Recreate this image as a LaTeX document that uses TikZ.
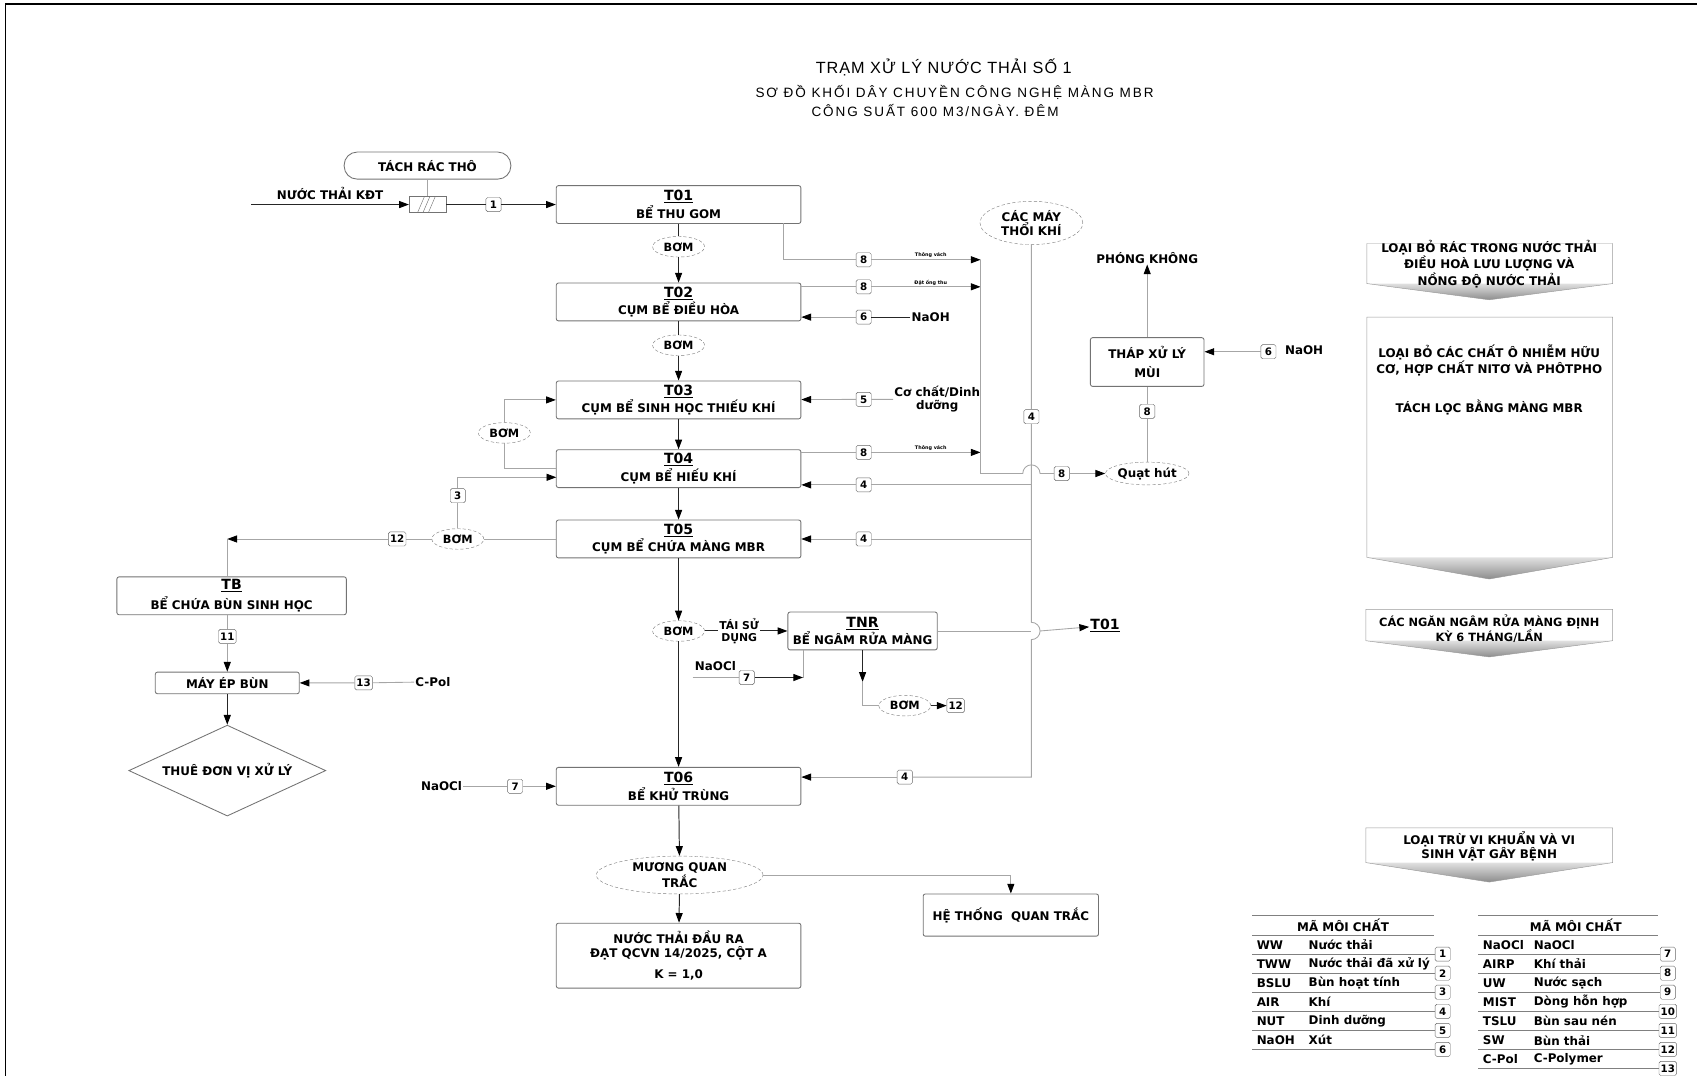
\documentclass[tikz,border=0pt]{standalone}
\usepackage{fontspec}
\setmainfont{DejaVu Sans}
\newfontfamily\titlefont[LetterSpace=6]{Liberation Sans}
\newfontfamily\subfont[LetterSpace=14]{Liberation Sans}
\usetikzlibrary{arrows.meta}
\usetikzlibrary{shapes.geometric}
\newcommand{\tankid}[1]{{\fontsize{13}{14}\selectfont\underline{#1}}}
\tikzset{
	tankstyle/.style={rectangle,rounded corners=2pt,draw=black!55,line width=0.8pt,fill=white,minimum width=226pt,minimum height=35pt,align=center,inner sep=1pt,font=\bfseries\fontsize{11}{13}\selectfont},
	pumpstyle/.style={ellipse,draw=black!50,densely dashed,fill=white,minimum width=48pt,minimum height=19pt,inner sep=0pt,align=center,font=\bfseries\fontsize{10.5}{12}\selectfont},
	numstyle/.style={rectangle,rounded corners=1.5pt,draw=black!60,fill=white,minimum width=14pt,minimum height=13pt,inner sep=1.5pt,font=\bfseries\fontsize{9.5}{10}\selectfont},
	textstyle/.style={align=center,inner sep=1pt,font=\bfseries\fontsize{11}{12}\selectfont},
	smallstyle/.style={inner sep=0pt,font=\bfseries\fontsize{4.5}{5}\selectfont},
	legstyle/.style={anchor=west,inner sep=0pt,font=\bfseries\fontsize{11}{12}\selectfont},
	flowline/.style={draw=black!85,line width=0.9pt},
	liteline/.style={draw=black!35,line width=0.8pt},
	endarrow/.style={-{Triangle[length=9pt,width=6.5pt,color=black]}}
}
\begin{document}
\begin{tikzpicture}[x=1pt,y=-1pt]
	\useasboundingbox (0,0) rectangle (1568,994);
	\draw[line width=1.6pt] (5,994) -- (5,4) -- (1568,4);
	% heading
	\node[inner sep=0pt,font=\titlefont\fontsize{15}{16}\selectfont] (title) at (872,62) {TRẠM XỬ LÝ NƯỚC THẢI SỐ 1};
	\node[inner sep=0pt,font=\subfont\fontsize{12.5}{14}\selectfont] (sub1) at (882,85) {SƠ ĐỒ KHỐI DÂY CHUYỀN CÔNG NGHỆ MÀNG MBR};
	\node[inner sep=0pt,font=\subfont\fontsize{12.5}{14}\selectfont] (sub2) at (864,102) {CÔNG SUẤT 600 M3/NGÀY. ĐÊM};
	% tanks
	\node[tankstyle] (t01) at (627,189) {\tankid{T01}\\[1pt]BỂ THU GOM};
	\node[tankstyle] (t02) at (627,279) {\tankid{T02}\\[1pt]CỤM BỂ ĐIỀU HÒA};
	\node[tankstyle] (t03) at (627,369.5) {\tankid{T03}\\[1pt]CỤM BỂ SINH HỌC THIẾU KHÍ};
	\node[tankstyle] (t04) at (627,433) {\tankid{T04}\\[1pt]CỤM BỂ HIẾU KHÍ};
	\node[tankstyle] (t05) at (627,498) {\tankid{T05}\\[1pt]CỤM BỂ CHỨA MÀNG MBR};
	\node[tankstyle] (t06) at (627,726.5) {\tankid{T06}\\[2pt]BỂ KHỬ TRÙNG};
	\node[tankstyle,minimum height=60pt] (nuocra) at (627,883) {NƯỚC THẢI ĐẦU RA\\ĐẠT QCVN 14/2025, CỘT A\\[6pt]K = 1,0};
	\node[tankstyle,minimum width=162pt,minimum height=39pt] (hethong) at (934,845.5) {HỆ THỐNG\ \ QUAN TRẮC};
	\node[tankstyle,minimum width=138pt] (tnr) at (797,583) {\tankid{TNR}\\[1pt]BỂ NGÂM RỬA MÀNG};
	\node[tankstyle,minimum width=212pt] (tb) at (214,550.5) {\tankid{TB}\\[3pt]BỂ CHỨA BÙN SINH HỌC};
	\node[tankstyle,minimum width=133pt,minimum height=20pt] (mayep) at (210,631) {MÁY ÉP BÙN};
	\node[tankstyle,minimum width=105pt,minimum height=45pt] (thap) at (1060,334.5) {THÁP XỬ LÝ\\[4pt]MÙI};
	\node[diamond,aspect=2.17,draw=black!55,line width=0.8pt,minimum width=182pt,minimum height=84pt,inner sep=0pt,font=\bfseries\fontsize{11}{12}\selectfont] (thue) at (210,712) {THUÊ ĐƠN VỊ XỬ LÝ};
	\node[rectangle,rounded corners=12pt,draw=black!55,line width=0.8pt,minimum width=154pt,minimum height=25pt,font=\bfseries\fontsize{11}{12}\selectfont] (tachrac) at (395,153) {TÁCH RÁC THÔ};
	\node[rectangle,draw=black!55,minimum width=34pt,minimum height=15pt,inner sep=0pt] (screen) at (395,189) {};
	\draw[black!55] (386,196) -- (392,182) (391,196) -- (397,182) (396,196) -- (402,182);
	% pumps
	\node[pumpstyle] (bom1) at (627,228) {BƠM};
	\node[pumpstyle] (bom2) at (627,319) {BƠM};
	\node[pumpstyle] (bom3) at (627,583) {BƠM};
	\node[pumpstyle] (bomr) at (466,400) {BƠM};
	\node[pumpstyle] (bom12) at (423,498) {BƠM};
	\node[pumpstyle] (bom4) at (836,652) {BƠM};
	\node[pumpstyle,minimum width=95pt,minimum height=40pt,font=\bfseries\fontsize{11}{12.5}\selectfont] (thoikhi) at (953,206) {CÁC MÁY\\THỔI KHÍ};
	\node[pumpstyle,minimum width=62pt,minimum height=21pt,font=\bfseries\fontsize{11}{12}\selectfont] (quat) at (1060,437.5) {Quạt hút};
	\node[pumpstyle,minimum width=154pt,minimum height=35pt,font=\bfseries\fontsize{11}{13}\selectfont] (muong) at (628,808.5) {MƯƠNG QUAN\\TRẮC};
	% texts
	\node[textstyle] (kdt) at (305,179) {NƯỚC THẢI KĐT};
	\node[textstyle] (cpol) at (400,630) {C-Pol};
	\node[textstyle] (naocl1) at (408,726.5) {NaOCl};
	\node[textstyle] (naocl2) at (661,615) {NaOCl};
	\node[textstyle] (naoh1) at (860,293) {NaOH};
	\node[textstyle] (coch) at (866,369) {Cơ chất/Dinh\\dưỡng};
	\node[textstyle] (naoh2) at (1205,324) {NaOH};
	\node[textstyle] (phong) at (1060,238) {PHÓNG KHÔNG};
	\node[textstyle] (t01out) at (1021,578) {\tankid{T01}};
	\node[textstyle,fill=white,font=\bfseries\fontsize{10}{11}\selectfont] (taisd) at (683,583) {TÁI SỬ\\DỤNG};
	\node[smallstyle] (thong1) at (860,236) {Thông vách};
	\node[smallstyle] (datong) at (860,261) {Đặt ống thu};
	\node[smallstyle] (thong2) at (860,414) {Thông vách};
	% stream numbers
	\node[numstyle] (n1) at (456,189) {1};
	\node[numstyle] (n8a) at (798,240) {8};
	\node[numstyle] (n8b) at (798,265) {8};
	\node[numstyle] (n6a) at (798,293) {6};
	\node[numstyle] (n5) at (798,369) {5};
	\node[numstyle] (n8c) at (798,418) {8};
	\node[numstyle] (n4a) at (798,448) {4};
	\node[numstyle] (n4b) at (798,498) {4};
	\node[numstyle] (n4c) at (953,385) {4};
	\node[numstyle] (n4d) at (836,718) {4};
	\node[numstyle] (n8d) at (981,437.5) {8};
	\node[numstyle] (n8e) at (1060,380) {8};
	\node[numstyle] (n6b) at (1172,325) {6};
	\node[numstyle] (n3) at (423,458) {3};
	\node[numstyle] (n12) at (367,498) {12};
	\node[numstyle] (n11) at (210,588) {11};
	\node[numstyle] (n13) at (336,631) {13};
	\node[numstyle] (n7a) at (476,726.5) {7};
	\node[numstyle] (n7b) at (690,626) {7};
	\node[numstyle] (n12b) at (883,652) {12};
	% bends
	\coordinate (inp) at (232,189);
	\coordinate (od1) at (724,206.5);
	\coordinate (col1) at (906,240);
	\coordinate (col2) at (906,265);
	\coordinate (col3) at (906,418);
	\coordinate (col4) at (906,437.5);
	\coordinate (hop1) at (945,437.5);
	\coordinate (air4) at (953,448);
	\coordinate (air5) at (953,498);
	\coordinate (airhop) at (953,575);
	\coordinate (airlow) at (953,718);
	\coordinate (tnrhop) at (953,583);
	\coordinate (tnrout) at (961,583);
	\coordinate (t04in) at (514,441);
	\coordinate (c12) at (210,498);
	\coordinate (naocl2s) at (640,626);
	\coordinate (c7b) at (742,626);
	\coordinate (tnrdn) at (797,630);
	% main line
	\draw[flowline,endarrow] (inp) -- (screen);
	\draw[liteline] (tachrac) -- (screen);
	\draw[flowline,endarrow] (screen) -- (n1) -- (t01);
	\draw[flowline] (t01) -- (bom1);
	\draw[flowline,endarrow] (bom1) -- (t02);
	\draw[flowline] (t02) -- (bom2);
	\draw[flowline,endarrow] (bom2) -- (t03);
	\draw[flowline,endarrow] (t03) -- (t04);
	\draw[flowline,endarrow] (t04) -- (t05);
	\draw[flowline,endarrow] (t05) -- (bom3);
	\draw[flowline,endarrow] (bom3) -- (t06);
	\draw[flowline,endarrow] (t06) -- (muong);
	\draw[flowline,endarrow] (muong) -- (nuocra);
	\draw[liteline,endarrow] (muong) -| (hethong);
	% recirculation and sludge
	\draw[liteline,endarrow] (bomr) |- (t03.west);
	\draw[liteline] (bomr) |- (t04.west);
	\draw[liteline] (t05) -- (bom12);
	\draw[liteline] (bom12) -- (n3);
	\draw[liteline,endarrow] (n3) |- (t04in);
	\draw[liteline,endarrow] (bom12) -- (n12) -- (c12);
	\draw[liteline] (c12) -- (c12 |- tb.north);
	\draw[liteline,endarrow] (tb.south -| n11) -- (n11) -- (mayep);
	\draw[liteline,endarrow] (cpol) -- (n13) -- (mayep);
	\draw[flowline,endarrow] (mayep) -- (thue);
	\draw[liteline,endarrow] (naocl1) -- (n7a) -- (t06);
	% membrane cleaning
	\draw[flowline,endarrow] (bom3) -- (taisd) -- (tnr);
	\draw[liteline] (naocl2s) -- (n7b);
	\draw[flowline,endarrow] (n7b) -- (c7b);
	\draw[liteline] (c7b) -- (c7b |- tnr.south);
	\draw[flowline,endarrow] (tnr) -- (tnrdn);
	\draw[liteline] (tnrdn) |- (bom4);
	\draw[flowline,endarrow] (bom4) -- (n12b);
	\draw[liteline] (tnr) -- (tnrhop);
	\draw[liteline,endarrow] (tnrout) -- (t01out);
	% air
	\draw[liteline] (thoikhi) -- (n4c) -- (airhop) arc[start angle=270,end angle=450,radius=8] -- (airlow) -- (n4d);
	\draw[liteline,endarrow] (n4d) -- (t06.east |- n4d);
	\draw[liteline,endarrow] (air4) -- (n4a) -- (t04.east |- n4a);
	\draw[liteline,endarrow] (air5) -- (n4b) -- (t05.east |- n4b);
	% odour
	\draw[liteline] (od1) |- (n8a);
	\draw[liteline,endarrow] (n8a) -- (col1);
	\draw[liteline,endarrow] (t02.east |- n8b) -- (n8b) -- (col2);
	\draw[liteline,endarrow] (t04.east |- n8c) -- (n8c) -- (col3);
	\draw[liteline] (col1) -- (col4) -- (hop1) arc[start angle=180,end angle=360,radius=8] -- (n8d);
	\draw[liteline,endarrow] (n8d) -- (quat);
	\draw[liteline] (quat) -- (n8e) -- (thap);
	\draw[liteline,endarrow] (thap) -- (phong);
	\draw[liteline,endarrow] (n6b) -- (thap.east |- n6b);
	\draw[flowline] (naoh1) -- (n6a);
	\draw[liteline,endarrow] (n6a) -- (t02.east |- n6a);
	\draw[liteline,endarrow] (coch.west |- n5) -- (n5) -- (t03);
	% stage notes
	\shade[top color=black!12,bottom color=black!45] (1263,262) -- (1490,262) -- (1376,277) -- cycle;
	\draw[black!40] (1263,225) -- (1490,225) -- (1490,262) -- (1376,277) -- (1263,262) -- cycle;
	\node[textstyle] (side1) at (1376,244) {LOẠI BỎ RÁC TRONG NƯỚC THẢI\\ĐIỀU HOÀ LƯU LƯỢNG VÀ\\NỒNG ĐỘ NƯỚC THẢI};
	\shade[top color=black!12,bottom color=black!45] (1263,515) -- (1490,515) -- (1376,535) -- cycle;
	\draw[black!40] (1263,293) -- (1490,293) -- (1490,515) -- (1376,535) -- (1263,515) -- cycle;
	\node[textstyle,font=\bfseries\fontsize{11}{14}\selectfont] (side2) at (1376,351) {LOẠI BỎ CÁC CHẤT Ô NHIỄM HỮU\\CƠ, HỢP CHẤT NITƠ VÀ PHÔTPHO\\[22pt]TÁCH LỌC BẰNG MÀNG MBR};
	\shade[top color=black!12,bottom color=black!45] (1262,592) -- (1490,592) -- (1376,607) -- cycle;
	\draw[black!40] (1262,563) -- (1490,563) -- (1490,592) -- (1376,607) -- (1262,592) -- cycle;
	\node[textstyle,font=\bfseries\fontsize{10.5}{13}\selectfont] (side3) at (1376,581) {CÁC NGĂN NGÂM RỬA MÀNG ĐỊNH\\KỲ 6 THÁNG/LẦN};
	\shade[top color=black!12,bottom color=black!45] (1262,797) -- (1490,797) -- (1376,815) -- cycle;
	\draw[black!40] (1262,765) -- (1490,765) -- (1490,797) -- (1376,815) -- (1262,797) -- cycle;
	\node[textstyle,font=\bfseries\fontsize{11}{13}\selectfont] (side4) at (1376,782) {LOẠI TRỪ VI KHUẨN VÀ VI\\SINH VẬT GÂY BỆNH};
	% legend, left
	\draw[black!50] (1157,846) -- (1325,846);
	\node[legstyle,anchor=center] (h1) at (1241,855) {MÃ MÔI CHẤT};
	\draw[black!50] (1157,864) -- (1325,864);
	\node[numstyle] (k1) at (1333,881.6) {1};
	\node[numstyle] (k2) at (1333,899.2) {2};
	\node[numstyle] (k3) at (1333,916.8) {3};
	\node[numstyle] (k4) at (1333,934.4) {4};
	\node[numstyle] (k5) at (1333,952) {5};
	\node[numstyle] (k6) at (1333,969.6) {6};
	\node[legstyle] (c1) at (1161,873) {WW}; \node[legstyle] (d1) at (1209,873) {Nước thải}; \draw[black!50] (1157,881.6) -- (k1);
	\node[legstyle] (c2) at (1161,890.6) {TWW}; \node[legstyle] (d2) at (1209,890.6) {Nước thải đã xử lý}; \draw[black!50] (1157,899.2) -- (k2);
	\node[legstyle] (c3) at (1161,908.2) {BSLU}; \node[legstyle] (d3) at (1209,908.2) {Bùn hoạt tính}; \draw[black!50] (1157,916.8) -- (k3);
	\node[legstyle] (c4) at (1161,925.8) {AIR}; \node[legstyle] (d4) at (1209,925.8) {Khí}; \draw[black!50] (1157,934.4) -- (k4);
	\node[legstyle] (c5) at (1161,943.4) {NUT}; \node[legstyle] (d5) at (1209,943.4) {Dinh dưỡng}; \draw[black!50] (1157,952) -- (k5);
	\node[legstyle] (c6) at (1161,961) {NaOH}; \node[legstyle] (d6) at (1209,961) {Xút}; \draw[black!50] (1157,969.6) -- (k6);
	% legend, right
	\draw[black!50] (1366,846) -- (1532,846);
	\node[legstyle,anchor=center] (h2) at (1456,855) {MÃ MÔI CHẤT};
	\draw[black!50] (1366,864) -- (1532,864);
	\node[numstyle] (k7) at (1541,881.6) {7};
	\node[numstyle] (k8) at (1541,899.2) {8};
	\node[numstyle] (k9) at (1541,916.8) {9};
	\node[numstyle] (k10) at (1541,934.4) {10};
	\node[numstyle] (k11) at (1541,952) {11};
	\node[numstyle] (k12) at (1541,969.6) {12};
	\node[numstyle] (k13) at (1541,987.2) {13};
	\node[legstyle] (c7) at (1370,873) {NaOCl}; \node[legstyle] (d7) at (1417,873) {NaOCl}; \draw[black!50] (1366,881.6) -- (k7);
	\node[legstyle] (c8) at (1370,890.6) {AIRP}; \node[legstyle] (d8) at (1417,890.6) {Khí thải}; \draw[black!50] (1366,899.2) -- (k8);
	\node[legstyle] (c9) at (1370,908.2) {UW}; \node[legstyle] (d9) at (1417,908.2) {Nước sạch}; \draw[black!50] (1366,916.8) -- (k9);
	\node[legstyle] (c10) at (1370,925.8) {MIST}; \node[legstyle] (d10) at (1417,925.8) {Dòng hỗn hợp}; \draw[black!50] (1366,934.4) -- (k10);
	\node[legstyle] (c11) at (1370,943.4) {TSLU}; \node[legstyle] (d11) at (1417,943.4) {Bùn sau nén}; \draw[black!50] (1366,952) -- (k11);
	\node[legstyle] (c12t) at (1370,961) {SW}; \node[legstyle] (d12) at (1417,961) {Bùn thải}; \draw[black!50] (1366,969.6) -- (k12);
	\node[legstyle] (c13) at (1370,978.6) {C-Pol}; \node[legstyle] (d13) at (1417,978.6) {C-Polymer}; \draw[black!50] (1366,987.2) -- (k13);
\end{tikzpicture}
\end{document}
